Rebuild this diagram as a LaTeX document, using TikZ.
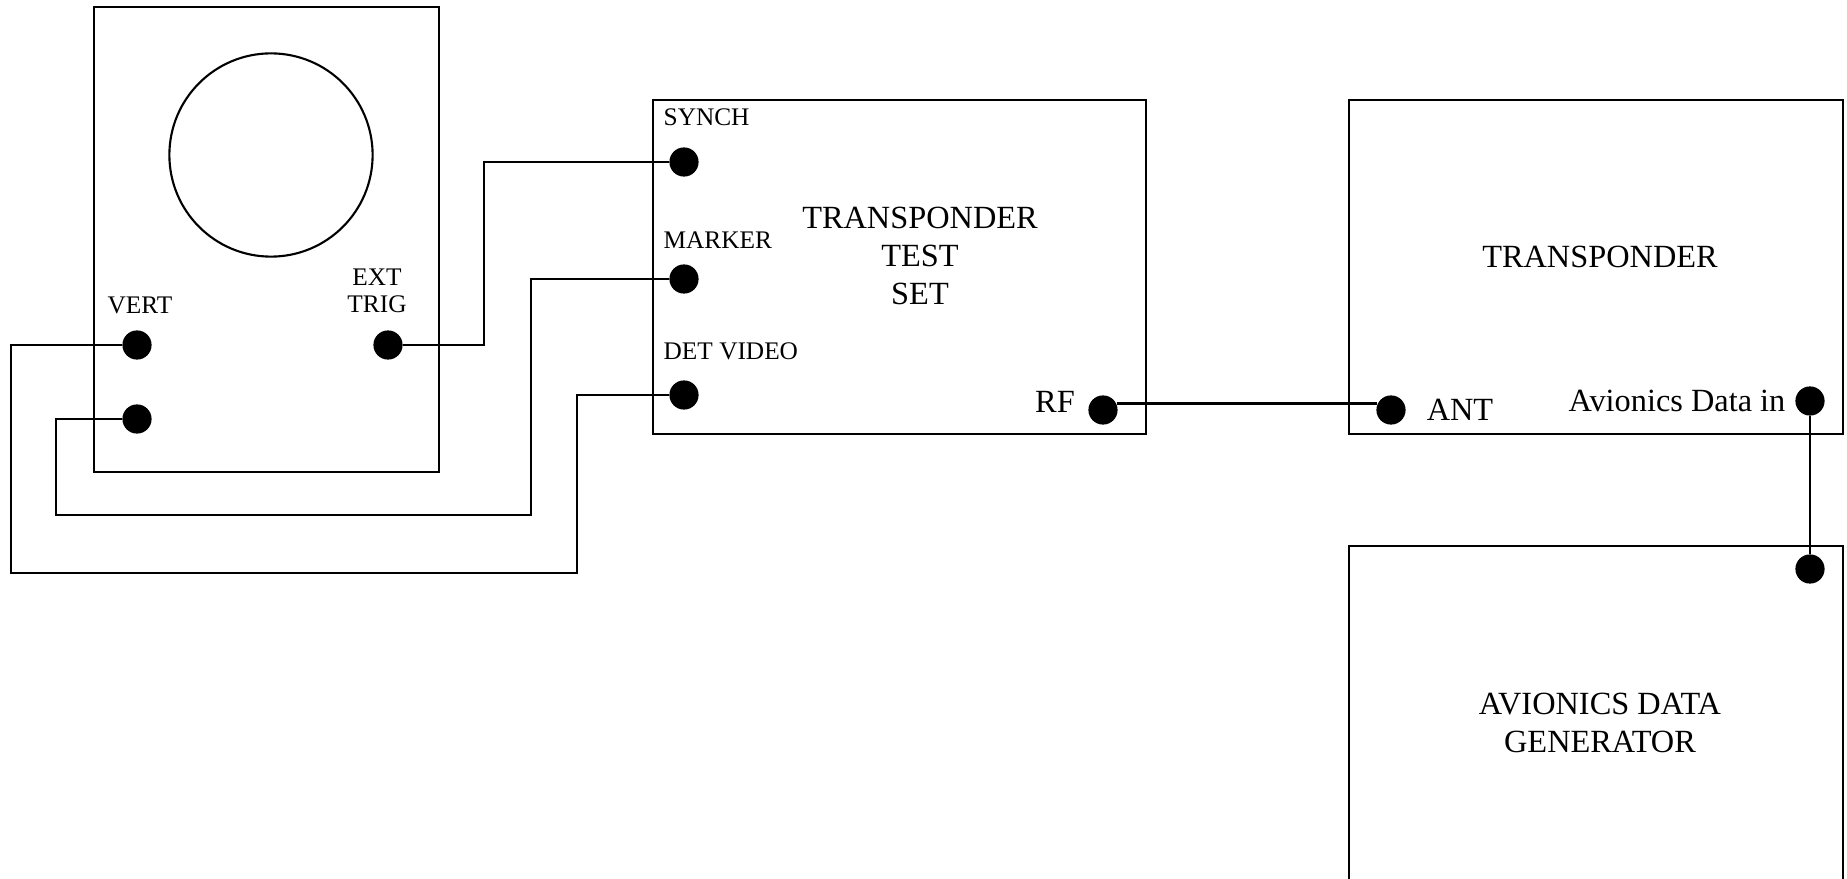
\documentclass[tikz,border=0pt]{standalone}
\usepackage{fontspec}
\setmainfont{Liberation Serif}
\begin{document}
\begin{tikzpicture}[x=0.01cm, y=-0.01cm,
  unitbox/.style={draw, line width=0.65pt},
  wire/.style={line width=0.55pt},
  rfwire/.style={line width=0.65pt},
  port/.style={circle, fill=black, draw=none, inner sep=0pt, minimum size=8.3pt},
  smalllbl/.style={inner sep=0pt, font=\fontsize{7.2}{7.7}\selectfont, align=center},
  biglbl/.style={inner sep=0pt, font=\fontsize{9.2}{10.8}\selectfont, align=center}]
\useasboundingbox (0,0) rectangle (1847,879);

% Oscilloscope
\draw[unitbox] (94,7) rectangle (439,472);
\node[draw, circle, line width=0.6pt, inner sep=0pt, minimum size=57.8pt] (screen) at (271,155) {};
\node[smalllbl] (vertlbl) at (140,305) {VERT};
\node[smalllbl] (extlbl) at (377,291) {EXT\\TRIG};
\node[port] (vert) at (137,345) {};
\node[port] (osc2) at (137,419) {};
\node[port] (ext) at (388,345) {};

% Transponder test set
\draw[unitbox] (653,100) rectangle (1146,434);
\node[smalllbl, anchor=west] (synchlbl) at (663,117) {SYNCH};
\node[smalllbl, anchor=west] (markerlbl) at (663,240) {MARKER};
\node[smalllbl, anchor=west] (detlbl) at (663,351) {DET VIDEO};
\node[biglbl] (ttslbl) at (920,256) {TRANSPONDER\\TEST\\SET};
\node[port] (synch) at (684,162) {};
\node[port] (marker) at (684,279) {};
\node[port] (det) at (684,395) {};
\node[biglbl] (rflbl) at (1055,402) {RF};
\node[port] (rf) at (1103,410) {};

% Transponder
\draw[unitbox] (1349,100) rectangle (1843,434);
\node[biglbl] (xpdrlbl) at (1600,257) {TRANSPONDER};
\node[port] (ant) at (1391,410) {};
\node[biglbl] (antlbl) at (1460,410) {ANT};
\node[biglbl] (avinlbl) at (1677,401) {Avionics Data in};
\node[port] (avin) at (1810,401) {};

% Avionics data generator
\draw[unitbox] (1349,879) -- (1349,546) -- (1843,546) -- (1843,879);
\node[biglbl] (genlbl) at (1600,723) {AVIONICS DATA\\GENERATOR};
\node[port] (genout) at (1810,569) {};

% Wires
\draw[wire] (ext) -- (484,345) |- (synch);
\draw[wire] (osc2) -| (56,515) -| (531,279) -- (marker);
\draw[wire] (vert) -| (11,573) -| (577,395) -- (det);
\draw[rfwire] (rf.25) -- (ant.155);
\draw[wire] (avin) -- (genout);
\end{tikzpicture}
\end{document}
